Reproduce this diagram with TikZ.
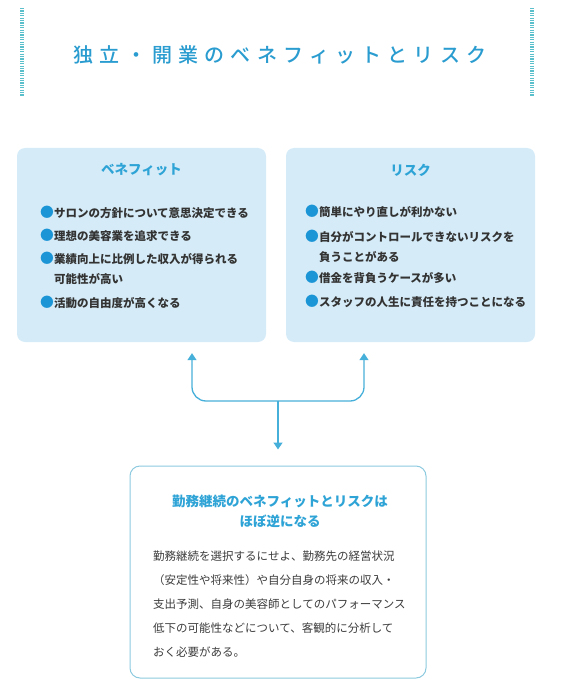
\documentclass[tikz,border=0pt]{standalone}
\usepackage{fontspec}
\setmainfont{Noto Sans CJK JP}
\newfontfamily\titlefont[LetterSpace=31]{Noto Sans CJK JP Medium}
\usepackage{xcolor}
\definecolor{titleBlue}{HTML}{2A9CCF}
\definecolor{headBlue}{HTML}{2EA3D6}
\definecolor{dotBlue}{HTML}{1C95D6}
\definecolor{boxFill}{HTML}{D5ECF8}
\definecolor{lineBlue}{HTML}{46AFDA}
\definecolor{frameBlue}{HTML}{8CCADF}
\definecolor{barTeal}{HTML}{5CBFCC}
\definecolor{inkGray}{HTML}{333333}
\definecolor{bodyGray}{HTML}{3C3C3C}
\usepackage{tikz}
\usetikzlibrary{arrows.meta}
\newcommand\dotmark{\textcolor{dotBlue}{\raisebox{-0.6pt}{\scalebox{1.2}{●}}}}

\begin{document}
\begin{tikzpicture}[x=1pt, y=-1pt, >={Triangle[width=9pt,length=7pt]},
  panel/.style={fill=boxFill, rounded corners=8pt, minimum width=249pt, minimum height=194pt, inner sep=0pt},
  head/.style={font=\fontsize{13.5}{20}\selectfont\bfseries, text=headBlue},
  item/.style={anchor=base west, align=left, inner sep=0pt, font=\fontsize{11.5}{20}\selectfont\bfseries, text=inkGray},
  link/.style={->, lineBlue, line width=1.3pt, rounded corners=14pt}]
  \useasboundingbox (0,0) rectangle (570,695);
  % ---- title ----
  \draw[barTeal, line width=4pt, dash pattern=on 1.2pt off 1.2pt] (22,8) -- (22,96);
  \draw[barTeal, line width=4pt, dash pattern=on 1.2pt off 1.2pt] (532,8) -- (532,96);
  \node[text=titleBlue, font=\titlefont\fontsize{20}{24}\selectfont] (title) at (280,55) {独立・開業のベネフィットとリスク};
  % ---- benefit / risk panels ----
  % (base of a two-line item is its last line)
  \node[panel] (benefit) at (141.5,245) {};
  \node[panel] (risk) at (410.5,245) {};
  \node[head] (benefithead) at (141.5,170) {ベネフィット};
  \node[head] (riskhead) at (410.5,170) {リスク};
  \foreach \txt/\y [count=\i] in {{サロンの方針について意思決定できる}/217,
      {理想の美容業を追求できる}/240,
      {業績向上に比例した収入が得られる\\\phantom{\dotmark}可能性が高い}/283,
      {活動の自由度が高くなる}/307}
    \node[item] (b\i) at (40,\y) {\dotmark\txt};
  \foreach \txt/\y [count=\i] in {{簡単にやり直しが利かない}/216,
      {自分がコントロールできないリスクを\\\phantom{\dotmark}負うことがある}/261,
      {借金を背負うケースが多い}/282,
      {スタッフの人生に責任を持つことになる}/306}
    \node[item] (r\i) at (305,\y) {\dotmark\txt};
  % ---- summary ----
  \node[draw=frameBlue, line width=1pt, fill=white, rounded corners=10pt, minimum width=296pt, minimum height=212pt, inner sep=0pt] (summary) at (278,572) {};
  \node[head, align=center] (summaryhead) at (280,511) {勤務継続のベネフィットとリスクは\\ほぼ逆になる};
  \node[anchor=north west, align=left, inner sep=0pt, font=\fontsize{11.5}{24}\selectfont, text=bodyGray] (summarytext) at (153,551)
    {勤務継続を選択するにせよ、勤務先の経営状況\\（安定性や将来性）や自分自身の将来の収入・\\支出予測、自身の美容師としてのパフォーマンス\\低下の可能性などについて、客観的に分析して\\おく必要がある。};
  % ---- arrows ----
  \coordinate (join) at (278,401);
  \draw[link, shorten >=11pt] (join) -| ([xshift=50.5pt]benefit.south);
  \draw[link, shorten >=11pt] (join) -| ([xshift=-46.5pt]risk.south);
  \draw[link, shorten >=16pt] (join) -- (summary.north);
\end{tikzpicture}
\end{document}
